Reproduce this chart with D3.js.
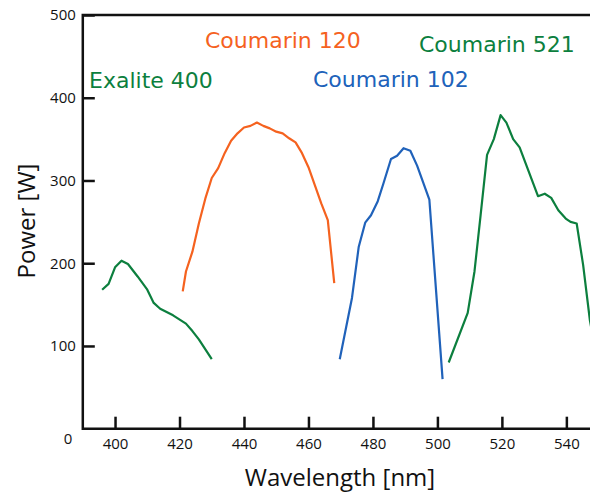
<!DOCTYPE html>
<html>
<head>
<meta charset="utf-8">
<script src="https://cdn.jsdelivr.net/npm/d3@7"></script>
<style>
  body { margin: 0; background: #fff; }
  svg { display: block; }
</style>
</head>
<body>
<div id="chart"></div>
<script>
// wavelength [nm], power [W]
var exalite400 = [[396,168],[398,175],[400,195],[402,203],[404,199],[407,184],[410,168],[412,152],[414,145],[418,137],[422,127],[424,118],[426,108],[430,84]];
var coumarin120 = [[421,166],[422,190],[424,214],[426,248],[428,278],[430,303],[432,315],[434,333],[436,348],[438,357],[440,364],[442,366],[444,370],[446,366],[448,363],[450,359],[452,357],[454,351],[456,346],[458,333],[460,316],[462,294],[464,272],[466,252],[468,176]];
var coumarin102 = [[469.7,84],[473.5,158],[475.6,220],[477.6,249],[479.4,258],[481.5,275],[483.3,297],[485.6,326],[487.5,330],[489.5,339],[491.6,336],[493.7,318],[497.5,277],[501.6,60]];
var coumarin521 = [[503.5,80],[509.4,140],[511.5,190],[513.4,258],[515.4,331],[517.5,350],[519.6,379],[521.4,370],[523.5,350],[525.5,340],[531.2,281],[533.3,284],[535.3,279],[537.5,264],[539.8,254],[541.3,250],[543.2,248],[545.2,198],[547.3,131],[549,95]];

var xTicks = [400, 420, 440, 460, 480, 500, 520, 540];
var yTicks = [100, 200, 300, 400, 500];

var series = [
    { name: "Exalite 400", data: exalite400, color: "#0c7f3e", lx: 89, ly: 88 },
    { name: "Coumarin 120", data: coumarin120, color: "#f5621f", lx: 205, ly: 48 },
    { name: "Coumarin 102", data: coumarin102, color: "#2062ba", lx: 313, ly: 87 },
    { name: "Coumarin 521", data: coumarin521, color: "#0c7f3e", lx: 419, ly: 52 }
];

var width = 590, height = 492;

var svg = d3.select("#chart").append("svg")
    .attr("width", width)
    .attr("height", height);

var x = d3.scaleLinear().domain([390, 550]).range([82.8, 598.6]);
var y = d3.scaleLinear().domain([0, 500]).range([428.7, 15]);

svg.append("clipPath").attr("id", "clip")
    .append("rect").attr("x", 83).attr("y", 0).attr("width", width - 83).attr("height", 428);

// x axis, ticks pointing inward
var gx = svg.append("g")
    .attr("transform", "translate(0," + y(0) + ")")
    .call(d3.axisBottom(x).tickValues(xTicks).tickSizeInner(-12).tickSizeOuter(0).tickPadding(10));
gx.select(".domain").remove();
gx.selectAll(".tick line").attr("stroke", "#111").attr("stroke-width", 2.5);
gx.selectAll("text").attr("font-family", "Open Sans").attr("font-size", 15).attr("fill", "#111");

var gy = svg.append("g")
    .attr("transform", "translate(" + x(390) + ",0)")
    .call(d3.axisLeft(y).tickValues(yTicks).tickSizeInner(-12).tickSizeOuter(0).tickPadding(7));
gy.select(".domain").remove();
gy.selectAll(".tick line").attr("stroke", "#111").attr("stroke-width", 2.5);
gy.selectAll("text").attr("font-family", "Open Sans").attr("font-size", 15).attr("fill", "#111");

// zero label sits below the corner
svg.append("text")
    .attr("x", 68).attr("y", 444)
    .attr("text-anchor", "middle")
    .attr("font-family", "Open Sans").attr("font-size", 15).attr("fill", "#111")
    .text("0");

// frame lines
svg.append("path")
    .attr("d", "M" + width + "," + y(500) + "H" + x(390) + "V" + y(0) + "H" + width)
    .attr("fill", "none")
    .attr("stroke", "#111")
    .attr("stroke-width", 2.5);

var line = d3.line()
    .x(function(d) { return x(d[0]); })
    .y(function(d) { return y(d[1]); });

var plot = svg.append("g").attr("clip-path", "url(#clip)");

series.forEach(function(s) {
    plot.append("path")
        .datum(s.data)
        .attr("d", line)
        .attr("fill", "none")
        .attr("stroke", s.color)
        .attr("stroke-width", 2.2)
        .attr("stroke-linejoin", "round");

    svg.append("text")
        .attr("x", s.lx).attr("y", s.ly)
        .attr("font-family", "DejaVu Sans").attr("font-size", 22)
        .attr("fill", s.color)
        .text(s.name);
});

svg.append("text")
    .attr("x", 340).attr("y", 486)
    .attr("text-anchor", "middle")
    .attr("font-family", "Open Sans").attr("font-size", 24).attr("fill", "#111")
    .text("Wavelength [nm]");

svg.append("text")
    .attr("transform", "translate(35,221) rotate(-90)")
    .attr("text-anchor", "middle")
    .attr("font-family", "Open Sans").attr("font-size", 24).attr("fill", "#111")
    .text("Power [W]");
</script>
</body>
</html>
